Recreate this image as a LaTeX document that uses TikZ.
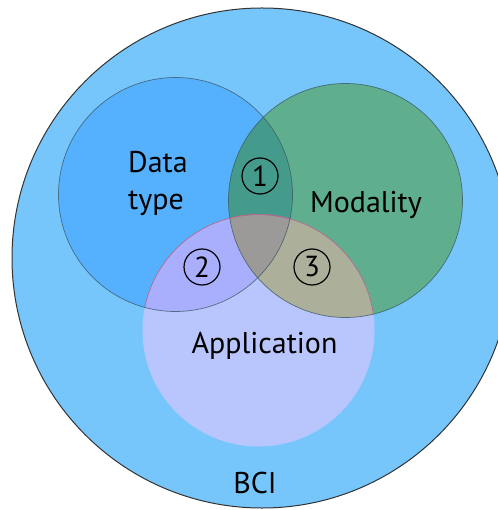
\documentclass[tikz,border=0pt]{standalone}
\usepackage{fontspec}
\setmainfont{PT Sans}
\definecolor{bgc}{HTML}{76C6FC}
\definecolor{dc}{HTML}{55B0FD}
\definecolor{mc}{HTML}{5FAE8E}
\definecolor{ac}{HTML}{B9C6FD}
\definecolor{dmc}{HTML}{449A8B}
\definecolor{dac}{HTML}{A9AFFD}
\definecolor{mac}{HTML}{ACAF9A}
\definecolor{dmac}{HTML}{9C9A98}
\definecolor{edgec}{HTML}{3C5A66}
\definecolor{appedge}{HTML}{B06A8A}
\begin{document}
\begin{tikzpicture}[x=1pt,y=-1pt,
  lbl/.style={font=\fontsize{30}{34}\selectfont, inner sep=0pt},
  num/.style={circle, draw=black, line width=1.2pt, minimum size=36pt, inner sep=0pt, font=\fontsize{29}{30}\selectfont},
  setedge/.style={draw=edgec, line width=0.7pt, draw opacity=0.8}]
\useasboundingbox (0,0) rectangle (497,510);
\def\Dc{(175.5,194.5) circle[radius=117]}
\def\Mc{(345.5,200.5) circle[radius=117]}
\def\Ac{(258.5,330.5) circle[radius=116]}
% BCI
\fill[bgc] (262,258) circle[radius=250];
% sets
\fill[dc] \Dc;
\fill[mc] \Mc;
\fill[ac] \Ac;
\begin{scope}\clip \Dc; \fill[dmc] \Mc; \end{scope}
\begin{scope}\clip \Dc; \fill[dac] \Ac; \end{scope}
\begin{scope}\clip \Mc; \fill[mac] \Ac; \end{scope}
\begin{scope}\clip \Dc; \clip \Mc; \fill[dmac] \Ac; \end{scope}
% edges
\begin{scope}\clip \Dc; \draw[appedge, line width=0.7pt] \Ac; \end{scope}
\begin{scope}\clip \Mc; \draw[appedge, line width=0.7pt] \Ac; \end{scope}
\draw[setedge] \Dc;
\draw[setedge] \Mc;
\draw[black!80, line width=1pt] (262,258) circle[radius=250];
% labels
\node[lbl, anchor=base west] (data) at (128,173) {Data};
\node[lbl, anchor=base west] (type) at (128,210) {type};
\node[lbl, anchor=base] (mod) at (366,213) {Modality};
\node[lbl, anchor=base] (app) at (264.5,353) {Application};
\node[lbl, anchor=base] (bci) at (255,493) {BCI};
\node[num] (n1) at (260,176) {1};
\node[num] (n2) at (202,267) {2};
\node[num] (n3) at (312,267) {3};
\end{tikzpicture}
\end{document}
